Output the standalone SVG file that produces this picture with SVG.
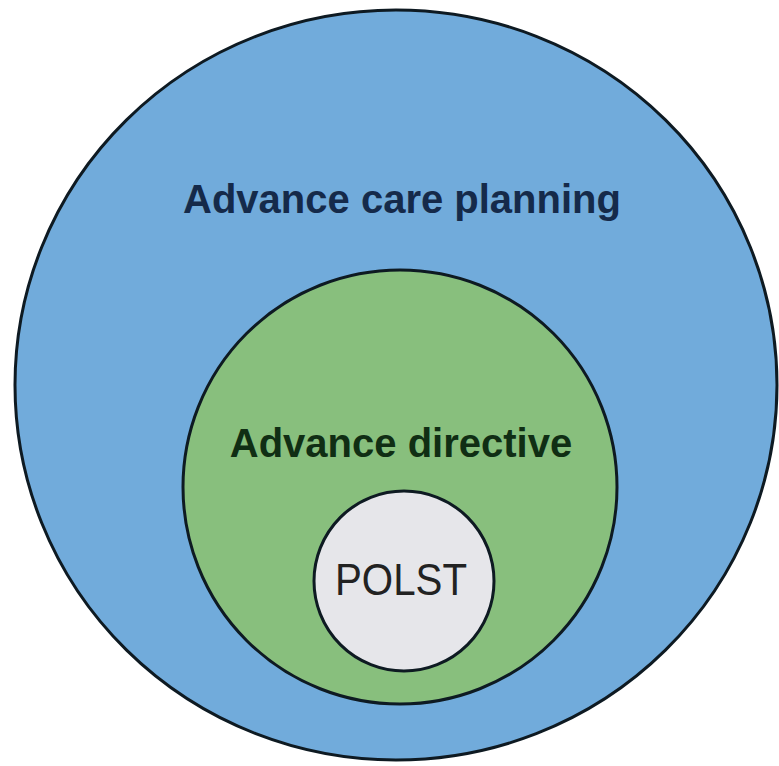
<svg xmlns="http://www.w3.org/2000/svg" width="779" height="766" viewBox="0 0 779 766">
  <style>
    .ring { stroke: #0e1a22; stroke-width: 3; }
    .label { font-family: "Liberation Sans", Arial, sans-serif; text-anchor: middle; }
    .bold { font-weight: bold; font-size: 40px; }
  </style>
  <rect width="779" height="766" fill="#ffffff"/>
  <g id="advance-care-planning">
    <ellipse class="ring" cx="396" cy="385" rx="381" ry="375" fill="#71abdb"/>
    <text class="label bold" x="402" y="213" fill="#152a4a">Advance care planning</text>
  </g>
  <g id="advance-directive">
    <circle class="ring" cx="400" cy="487" r="217" fill="#88bf7d"/>
    <text class="label bold" x="401" y="457" fill="#102e14">Advance directive</text>
  </g>
  <g id="polst">
    <circle class="ring" cx="404" cy="581" r="90" fill="#e6e6ea"/>
    <text class="label" x="401" y="595" font-size="44" textLength="132" lengthAdjust="spacingAndGlyphs" fill="#222222">POLST</text>
  </g>
  <g id="connectors"/>
</svg>
